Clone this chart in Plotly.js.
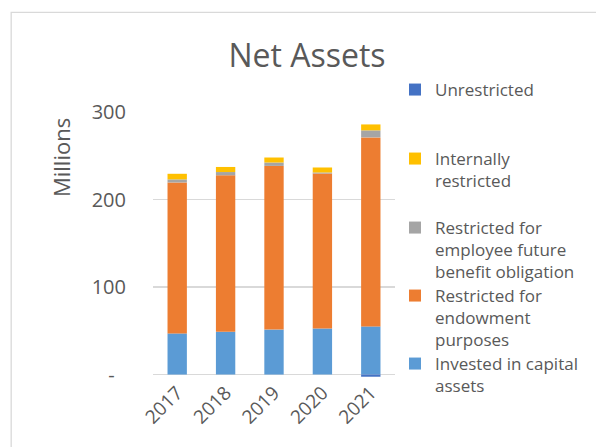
<!DOCTYPE html>
<html>
<head>
<meta charset="utf-8">
<script src="https://cdn.plot.ly/plotly-3.0.1.min.js"></script>
<style>html,body{margin:0;padding:0;background:#fff;}#chart{width:596px;height:447px;}</style>
</head>
<body>
<div id="chart"></div>
<script>
var years = ['2017', '2018', '2019', '2020', '2021'];
var investedCapital = [47, 49, 51.4, 52.6, 55];
var endowment = [172.5, 178.7, 187, 177.1, 216];
var employeeBenefit = [3.5, 3.7, 3.9, 1.2, 8];
var internallyRestricted = [6.4, 5.8, 5.7, 5.7, 6.8];
var unrestricted = [0, 0, 0, 0, -2.5];
var yTickVals = [0, 100, 200, 300];
var yTickText = ['-\u2007', '100', '200', '300'];

var txt = '#595959';
var legFont = {family: 'Open Sans, Noto Sans, sans-serif', size: 17, color: txt};

function mk(name, vals, color, leg) {
  return {type: 'bar', x: years, y: vals, name: name, marker: {color: color},
          legend: leg, hoverinfo: 'y+name'};
}
var data = [
  mk('Invested in capital<br>assets', investedCapital, '#5B9BD5', 'legend5'),
  mk('Restricted for<br>endowment<br>purposes', endowment, '#ED7D31', 'legend4'),
  mk('Restricted for<br>employee future<br>benefit obligation', employeeBenefit, '#A5A5A5', 'legend3'),
  mk('Internally<br>restricted', internallyRestricted, '#FFC000', 'legend2'),
  mk('Unrestricted', unrestricted, '#4472C4', 'legend')
];

function leg(topPx) {
  return {x: 395/596, y: 1 - topPx/447, xref: 'container', yref: 'container',
          xanchor: 'left', yanchor: 'top', bgcolor: 'rgba(0,0,0,0)', borderwidth: 0,
          font: legFont, valign: 'top'};
}

var W = 244, H = 265, bottomPx = 376.7, leftPx = 153;
function px2x(p) { return (p - leftPx) / W; }
function px2y(p) { return (bottomPx - p) / H; }

var layout = {
  width: 596, height: 447,
  margin: {l: 153, r: 199, t: 112, b: 70, pad: 0},
  paper_bgcolor: '#ffffff', plot_bgcolor: '#ffffff',
  barmode: 'relative', bargap: 0.6,
  font: {family: 'Open Sans, Noto Sans, sans-serif', color: txt},
  title: {text: 'Net Assets', font: {size: 32, color: txt, family: 'Open Sans, Noto Sans, sans-serif'},
          x: 307/596, xanchor: 'center', xref: 'container', y: 1 - 56/447, yanchor: 'middle', yref: 'container'},
  xaxis: {type: 'category', tickangle: -45, tickfont: {size: 19, color: txt},
          showgrid: false, showline: false, ticks: '', zeroline: false},
  yaxis: {range: [-2.8, 300], tickvals: yTickVals, ticktext: yTickText,
          tickfont: {size: 20, color: txt}, showgrid: true, gridcolor: '#d9d9d9', gridwidth: 1.3,
          zeroline: true, zerolinecolor: '#d9d9d9', zerolinewidth: 1.3, showline: false, ticks: '',
          ticklabelstandoff: 26},
  showlegend: true,
  legend: leg(72),
  legend2: leg(141),
  legend3: leg(210),
  legend4: leg(278),
  legend5: leg(346),
  annotations: [{text: 'Millions', textangle: -90, xref: 'paper', yref: 'paper',
                 x: px2x(61), y: px2y(157), xanchor: 'center', yanchor: 'middle', showarrow: false,
                 font: {size: 22, color: txt}}],
  shapes: [{type: 'rect', xref: 'paper', yref: 'paper', x0: px2x(10), x1: px2x(620),
            y0: px2y(470), y1: px2y(12), line: {color: '#d9d9d9', width: 1.3}, layer: 'below'}]
};

Plotly.newPlot('chart', data, layout, {displayModeBar: false, staticPlot: true});
</script>
</body>
</html>
